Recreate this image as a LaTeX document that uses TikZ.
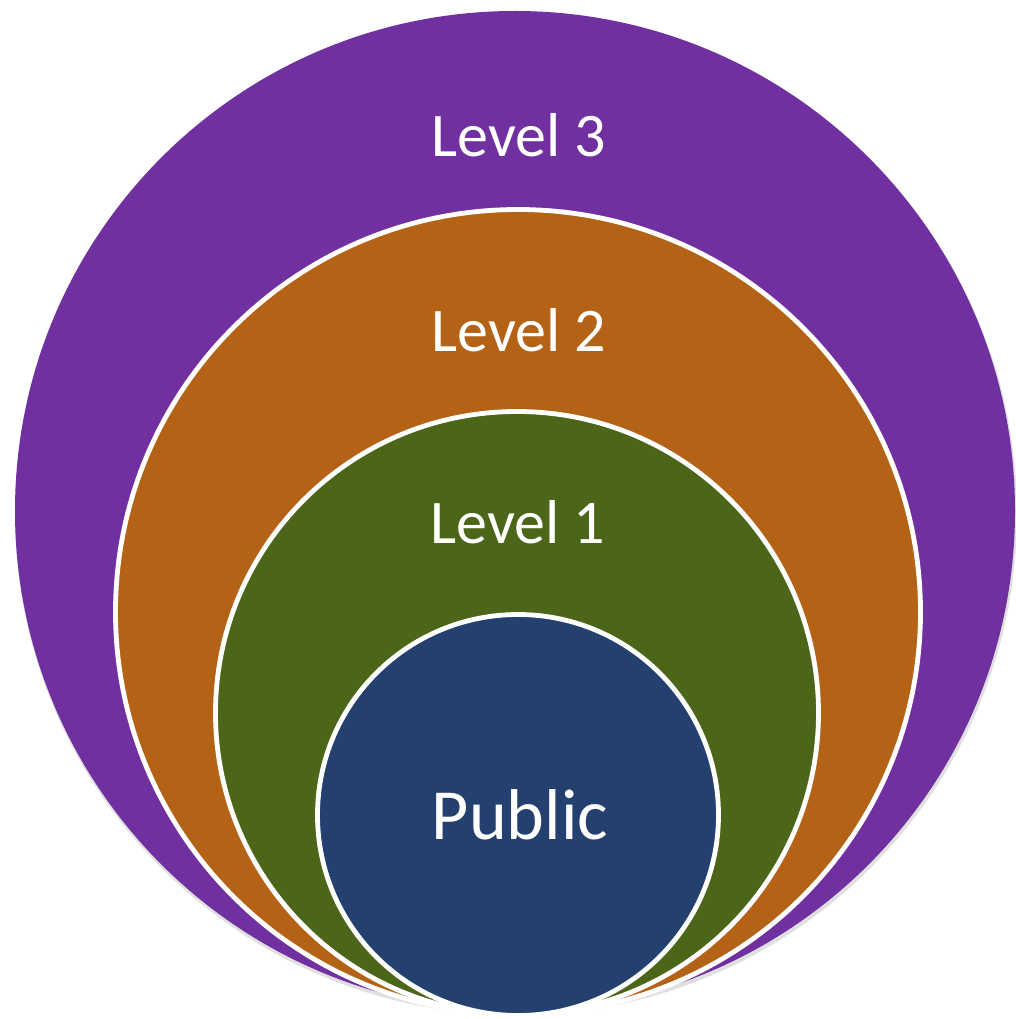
\documentclass[tikz,border=0pt]{standalone}
\usepackage{fontspec}
\setmainfont{Carlito}
\definecolor{lvthree}{HTML}{7030A0}
\definecolor{lvtwo}{HTML}{B46316}
\definecolor{lvone}{HTML}{4B6619}
\definecolor{pub}{HTML}{24406F}
\begin{document}
\begin{tikzpicture}[x=1pt,y=-1pt,
  ring/.style={circle,inner sep=0pt,draw=white,line width=4.8pt},
  lbl/.style={text=white,font=\fontsize{62}{70}\selectfont,inner sep=0pt}]
\useasboundingbox (0,0) rectangle (1015,1019);
\fill[black!12] (516,514) circle (501);
\node[circle,inner sep=0pt,minimum size=1000pt,fill=lvthree] (c3) at (515,511) {};
\node[ring,minimum size=805pt,fill=lvtwo] (c2) at (518,612) {};
\node[ring,minimum size=603pt,fill=lvone] (c1) at (517,713) {};
\node[ring,minimum size=401pt,fill=pub] (c0) at (518,815) {};
\node[lbl] (t3) at (519,135) {Level 3};
\node[lbl] (t2) at (519,330) {Level 2};
\node[lbl] (t1) at (518,522) {Level 1};
\node[lbl,font=\fontsize{72}{80}\selectfont] (t0) at (520,815) {Public};
\end{tikzpicture}
\end{document}
